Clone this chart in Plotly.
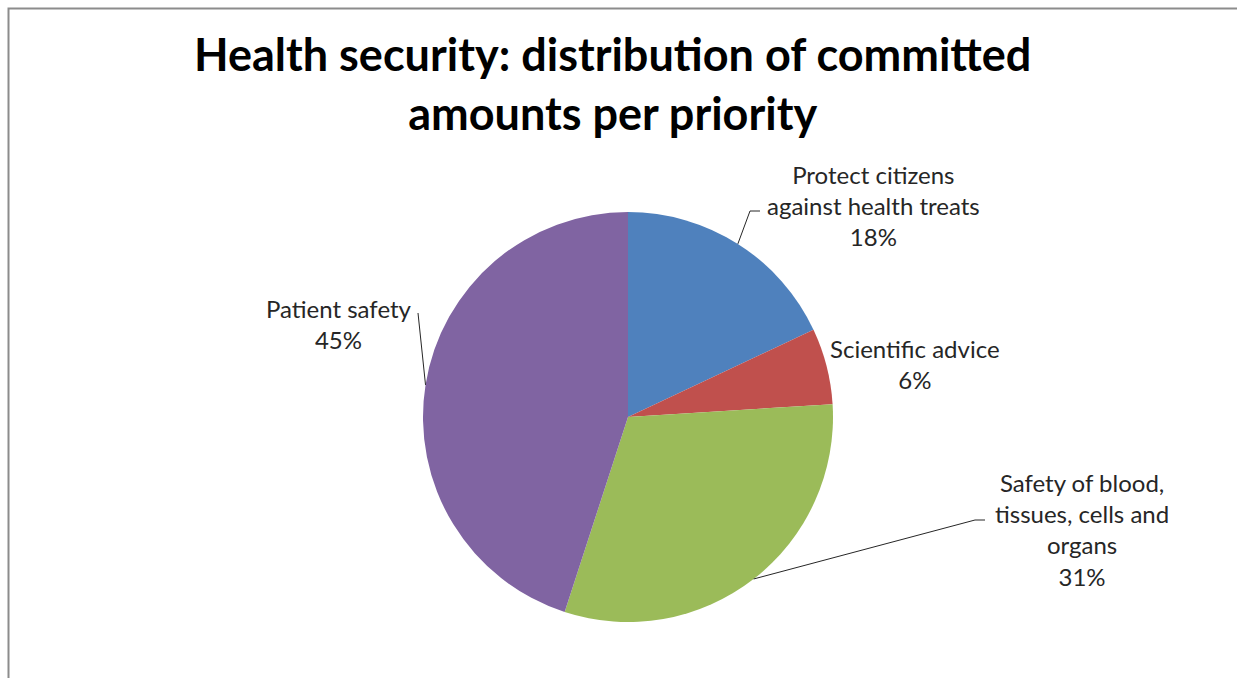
import math
import plotly.graph_objects as go

# ---- data ----
categories = ["Protect citizens against health treats", "Scientific advice",
              "Safety of blood, tissues, cells and organs", "Patient safety"]
label_lines = [["Protect citizens", "against health treats"], ["Scientific advice"],
               ["Safety of blood,", "tissues, cells and", "organs"], ["Patient safety"]]
values = [18, 6, 31, 45]
colors = ["#4F81BD", "#C0504D", "#9BBB59", "#8064A2"]

W, H = 1237, 678
CX, CY, R = 628, 417, 205

# label layout (pixel centre of text block) and leader-line elbow points
label_pos = [(873, 205), (915, 364), (1082, 529), (339, 324)]
elbows = [[(750, 211), (760, 211)], None, [(975, 520), (985, 520)], [(418, 313)]]

def px(x):
    return x / W

def py(y):
    return 1 - y / H

fig = go.Figure(go.Pie(
    labels=categories, values=values, sort=False, direction="clockwise",
    rotation=0, marker=dict(colors=colors, line=dict(width=0)),
    textinfo="none", hoverinfo="label+percent", showlegend=False,
    domain=dict(x=[px(CX - R), px(CX + R)], y=[py(CY + R), py(CY - R)]),
))

total = sum(values)
cum = 0
shapes = [dict(type="rect", xref="paper", yref="paper",
               x0=px(8.5), y0=py(8.5), x1=1.05, y1=-0.05,
               line=dict(color="#8c8c8c", width=2))]
annotations = []
for i, v in enumerate(values):
    mid = (cum + v / 2) / total * 2 * math.pi
    cum += v
    ax_, ay_ = CX + R * math.sin(mid), CY - R * math.cos(mid)
    pct = f"{round(v / total * 100)}%"
    text = "<br>".join(label_lines[i] + [pct])
    lx, ly = label_pos[i]
    annotations.append(dict(x=px(lx), y=py(ly), xref="paper", yref="paper",
                            text=text, showarrow=False, align="center",
                            xanchor="center", yanchor="middle",
                            font=dict(family="Lato", size=24, color="#262626")))
    if elbows[i]:
        pts = [(ax_, ay_)] + elbows[i]
        path = "M " + " L ".join(f"{px(a)},{py(b)}" for a, b in pts)
        shapes.append(dict(type="path", xref="paper", yref="paper", path=path,
                           line=dict(color="#262626", width=1)))

annotations.append(dict(x=px(612), y=py(84), xref="paper", yref="paper",
                        text="<b>Health security: distribution of committed<br>amounts per priority</b>",
                        showarrow=False, align="center", xanchor="center", yanchor="middle",
                        font=dict(family="Lato", size=45, color="#000000")))

fig.update_layout(width=W, height=H, margin=dict(l=0, r=0, t=0, b=0),
                  paper_bgcolor="white", plot_bgcolor="white",
                  shapes=shapes, annotations=annotations)

fig.write_html("out.html")
